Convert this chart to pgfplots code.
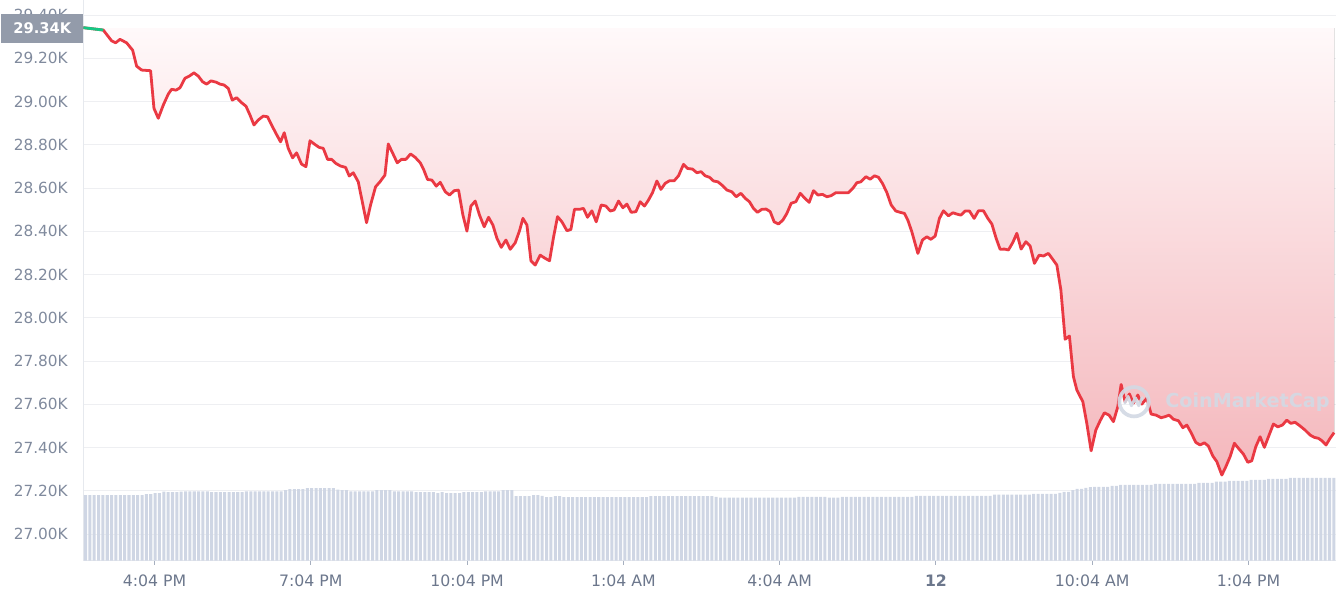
\documentclass[border=0pt]{standalone}
\usepackage{fontspec}
\setmainfont{DejaVu Sans}
\usepackage{pgfplots}
\pgfplotsset{compat=1.18}
\usepackage{pgfplotstable}
\usepgfplotslibrary{fillbetween}

\definecolor{linec}{HTML}{EA3943}
\definecolor{greenc}{HTML}{16C784}
\definecolor{barc}{HTML}{CFD6E4}
\definecolor{gridc}{HTML}{58667E}
\definecolor{axisc}{HTML}{E6E9EE}
\definecolor{tickc}{HTML}{A6AFBF}
\definecolor{ylab}{HTML}{808A9D}
\definecolor{xlab}{HTML}{6C778C}
\definecolor{boxc}{HTML}{939BAA}
\definecolor{dotc}{HTML}{A0A7B4}
\definecolor{filltop}{HTML}{FFF9FA}
\definecolor{fillc}{HTML}{F4B7BC}
\definecolor{wmc}{HTML}{D3D9E4}

% price, hours after 4:04 PM -> thousand USD
\pgfplotstableread{
h p
-1.368 29.342
-0.985 29.331
-0.825 29.281
-0.749 29.272
-0.664 29.288
-0.537 29.272
-0.422 29.238
-0.345 29.164
-0.250 29.146
-0.077 29.143
-0.012 28.969
0.071 28.923
0.167 28.984
0.263 29.035
0.326 29.057
0.411 29.053
0.488 29.064
0.583 29.108
0.666 29.118
0.756 29.133
0.839 29.118
0.921 29.092
0.998 29.081
1.083 29.096
1.179 29.090
1.255 29.081
1.332 29.077
1.415 29.061
1.491 29.007
1.574 29.018
1.670 28.995
1.754 28.979
1.831 28.938
1.908 28.892
1.990 28.915
2.086 28.933
2.169 28.930
2.246 28.892
2.330 28.853
2.418 28.814
2.489 28.856
2.566 28.784
2.649 28.740
2.726 28.763
2.821 28.711
2.906 28.699
2.983 28.819
3.065 28.804
3.161 28.788
3.238 28.784
3.321 28.733
3.397 28.733
3.482 28.714
3.570 28.702
3.666 28.696
3.737 28.656
3.814 28.671
3.910 28.629
3.987 28.537
4.069 28.440
4.146 28.522
4.242 28.606
4.326 28.629
4.422 28.660
4.486 28.804
4.568 28.763
4.658 28.717
4.741 28.733
4.825 28.733
4.914 28.758
5.004 28.742
5.100 28.717
5.163 28.687
5.240 28.640
5.324 28.637
5.407 28.609
5.484 28.627
5.580 28.583
5.662 28.568
5.752 28.588
5.835 28.591
5.919 28.475
5.996 28.401
6.073 28.517
6.155 28.540
6.238 28.475
6.328 28.421
6.411 28.465
6.495 28.429
6.572 28.368
6.655 28.326
6.745 28.360
6.827 28.317
6.923 28.347
7.006 28.403
7.071 28.460
7.148 28.429
7.225 28.264
7.307 28.244
7.403 28.290
7.499 28.275
7.582 28.264
7.658 28.372
7.735 28.468
7.820 28.444
7.916 28.403
7.992 28.409
8.061 28.502
8.157 28.502
8.234 28.506
8.311 28.465
8.395 28.495
8.478 28.444
8.574 28.522
8.664 28.517
8.747 28.494
8.823 28.499
8.906 28.540
8.990 28.509
9.067 28.526
9.150 28.488
9.240 28.491
9.323 28.537
9.405 28.517
9.482 28.545
9.559 28.579
9.643 28.633
9.720 28.594
9.802 28.622
9.885 28.634
9.975 28.634
10.058 28.657
10.154 28.710
10.230 28.691
10.326 28.688
10.411 28.671
10.493 28.676
10.570 28.657
10.653 28.650
10.729 28.633
10.814 28.629
10.891 28.614
10.987 28.591
11.082 28.583
11.165 28.560
11.255 28.576
11.338 28.553
11.420 28.537
11.497 28.506
11.574 28.488
11.658 28.502
11.741 28.503
11.818 28.491
11.894 28.444
11.977 28.434
12.061 28.452
12.138 28.483
12.221 28.530
12.311 28.537
12.394 28.576
12.476 28.555
12.566 28.534
12.649 28.588
12.733 28.568
12.822 28.571
12.906 28.560
12.988 28.565
13.079 28.579
13.161 28.579
13.244 28.579
13.321 28.579
13.405 28.599
13.482 28.625
13.559 28.629
13.655 28.653
13.737 28.641
13.820 28.657
13.896 28.650
13.973 28.622
14.058 28.579
14.140 28.522
14.230 28.494
14.313 28.488
14.395 28.483
14.460 28.452
14.537 28.398
14.653 28.298
14.741 28.360
14.825 28.375
14.902 28.363
14.985 28.378
15.067 28.460
15.144 28.495
15.240 28.472
15.324 28.486
15.401 28.480
15.478 28.475
15.560 28.494
15.643 28.494
15.733 28.460
15.816 28.495
15.912 28.495
15.996 28.460
16.073 28.434
16.155 28.368
16.232 28.317
16.315 28.318
16.392 28.314
16.476 28.349
16.553 28.391
16.635 28.318
16.726 28.352
16.808 28.332
16.891 28.252
16.981 28.290
17.063 28.286
17.159 28.298
17.244 28.270
17.321 28.244
17.398 28.129
17.480 27.901
17.562 27.916
17.639 27.728
17.705 27.666
17.820 27.612
17.896 27.512
17.979 27.385
18.069 27.481
18.152 27.524
18.234 27.561
18.324 27.550
18.407 27.520
18.491 27.589
18.555 27.692
18.631 27.612
18.714 27.648
18.791 27.605
18.875 27.643
18.952 27.601
19.048 27.628
19.131 27.555
19.226 27.550
19.322 27.538
19.399 27.543
19.476 27.550
19.559 27.531
19.655 27.524
19.739 27.492
19.816 27.504
19.898 27.469
19.988 27.424
20.071 27.412
20.154 27.422
20.230 27.407
20.315 27.361
20.392 27.335
20.488 27.273
20.564 27.311
20.647 27.358
20.729 27.420
20.806 27.397
20.902 27.370
20.987 27.332
21.063 27.339
21.140 27.404
21.223 27.450
21.305 27.401
21.396 27.458
21.478 27.509
21.562 27.496
21.651 27.504
21.735 27.527
21.812 27.512
21.894 27.517
21.990 27.500
22.086 27.481
22.182 27.458
22.265 27.447
22.342 27.443
22.407 27.432
22.489 27.412
22.566 27.443
22.643 27.469
}\price

% volume bars, one per 5 minutes, drawn on the price scale
\pgfplotstableread[row sep=\\]{
v\\
27.180\\27.180\\27.180\\27.180\\27.180\\27.180\\27.180\\27.180\\27.180\\27.180\\27.180\\27.180\\27.180\\27.180\\
27.185\\27.185\\
27.189\\27.189\\
27.196\\
27.194\\27.194\\27.194\\
27.196\\
27.198\\27.198\\27.198\\27.198\\27.198\\27.198\\
27.194\\27.194\\27.194\\27.194\\27.194\\27.194\\27.194\\27.194\\
27.198\\27.198\\27.198\\27.198\\27.198\\27.198\\27.198\\27.198\\27.198\\
27.203\\
27.208\\27.208\\27.208\\27.208\\
27.212\\27.212\\27.212\\27.212\\27.212\\27.212\\27.212\\
27.206\\
27.203\\27.203\\
27.198\\27.198\\27.198\\27.198\\27.198\\27.198\\
27.203\\27.203\\27.203\\27.203\\
27.198\\27.198\\27.198\\27.198\\27.198\\
27.194\\27.194\\27.194\\27.194\\27.194\\
27.189\\
27.194\\
27.189\\27.189\\27.189\\27.189\\
27.194\\27.194\\27.194\\27.194\\27.194\\
27.198\\27.198\\27.198\\27.198\\
27.203\\27.203\\27.203\\
27.175\\27.175\\27.175\\27.175\\
27.180\\27.180\\
27.177\\
27.171\\27.171\\
27.175\\27.175\\
27.171\\27.171\\27.171\\27.171\\27.171\\27.171\\27.171\\27.171\\27.171\\27.171\\
27.171\\27.171\\27.171\\27.171\\27.171\\27.171\\27.171\\27.171\\27.171\\27.171\\
27.175\\27.175\\27.175\\27.175\\27.175\\27.175\\27.175\\27.175\\27.175\\27.175\\27.175\\27.175\\27.175\\27.175\\27.175\\
27.172\\
27.168\\27.168\\27.168\\27.168\\27.168\\27.168\\27.168\\27.168\\27.168\\
27.168\\27.168\\27.168\\27.168\\27.168\\27.168\\27.168\\27.168\\27.168\\
27.172\\27.172\\27.172\\27.172\\27.172\\27.172\\27.172\\
27.168\\27.168\\27.168\\
27.172\\27.172\\27.172\\27.172\\27.172\\27.172\\27.172\\27.172\\27.172\\
27.172\\27.172\\27.172\\27.172\\27.172\\27.172\\27.172\\27.172\\
27.177\\27.177\\27.177\\27.177\\27.177\\27.177\\27.177\\27.177\\27.177\\
27.177\\27.177\\27.177\\27.177\\27.177\\27.177\\27.177\\27.177\\27.177\\
27.182\\27.182\\27.182\\27.182\\27.182\\27.182\\27.182\\27.182\\27.182\\
27.186\\27.186\\27.186\\27.186\\27.186\\27.186\\
27.191\\
27.195\\27.195\\
27.203\\
27.209\\27.209\\
27.214\\
27.217\\
27.218\\27.218\\27.218\\27.218\\
27.223\\27.223\\
27.228\\27.228\\27.228\\27.228\\27.228\\27.228\\27.228\\27.228\\
27.232\\27.232\\27.232\\27.232\\27.232\\27.232\\27.232\\27.232\\27.232\\27.232\\
27.237\\27.237\\27.237\\27.237\\
27.242\\27.242\\27.242\\
27.246\\27.246\\27.246\\27.246\\27.246\\
27.251\\27.251\\27.251\\27.251\\
27.255\\27.255\\27.255\\27.255\\27.255\\
27.260\\27.260\\27.260\\27.260\\27.260\\27.260\\27.260\\27.260\\27.260\\27.260\\27.260\\
}\bars

\begin{document}
\begin{tikzpicture}
\begin{axis}[
    name=ax,
    set layers,
    scale only axis,
    width=939.5pt, height=420.5pt,
    xmin=-1.368, xmax=22.68,
    ymin=26.877, ymax=29.470,
    axis x line*=bottom, axis y line*=left,
    axis line style={draw=axisc, line width=0.75pt},
    tick align=inside,
    major tick length=3pt,
    xtick={0,3,6,9,12,15,18,21},
    xticklabels={4:04 PM,7:04 PM,10:04 PM,1:04 AM,4:04 AM,\textbf{12},10:04 AM,1:04 PM},
    ytick={27.0,27.2,27.4,27.6,27.8,28.0,28.2,28.4,28.6,28.8,29.0,29.2,29.4},
    yticklabels={27.00K,27.20K,27.40K,27.60K,27.80K,28.00K,28.20K,28.40K,28.60K,28.80K,29.00K,29.20K,29.40K},
    ymajorgrids=true,
    major grid style={draw=gridc, draw opacity=0.1, line width=0.75pt},
    ytick style={draw=none},
    xtick style={draw=tickc, line width=0.75pt, yshift=-3pt},
    yticklabel style={font=\fontsize{11.5}{13}\selectfont, text=ylab, inner xsep=11.5pt},
    xticklabel style={font=\fontsize{11.8}{13}\selectfont, text=xlab, yshift=-7.3pt},
    extra y ticks={29.34},
    extra y tick labels={29.34K},
    extra y tick style={
        ymajorgrids=true,
        major grid style={draw=dotc, draw opacity=1, dash pattern=on 0.9pt off 4.1pt, line width=0.9pt},
        yticklabel style={fill=boxc, text=white, font=\bfseries\fontsize{11}{13}\selectfont,
            inner sep=0pt, minimum width=61.2pt, minimum height=21.75pt},
    },
]
% area between price and the opening level, under the grid
\addplot[draw=none, name path=price] table[x=h, y=p] {\price};
\addplot[draw=none, name path=base] coordinates {(-1.368,29.34) (22.643,29.34)};
\addplot[draw=none, top color=filltop, bottom color=fillc, on layer=axis background]
    fill between[of=price and base];

% volume
\addplot[ybar, bar shift=0pt, bar width=0.058, fill=barc, draw=none]
    table[x expr=-1.368+(\coordindex+0.5)*0.0835, y=v] {\bars};

% price line
\addplot[linec, line width=2.1pt, line join=round] table[x=h, y=p] {\price};
\addplot[greenc, line width=2.1pt, restrict expr to domain={\coordindex}{0:1}]
    table[x=h, y=p] {\price};

% watermark, drawn over the line
\node[text=wmc, text opacity=0.92, font=\bfseries\fontsize{14.4}{16}\selectfont] (wm)
    at (axis cs:20.98,27.612) {CoinMarketCap};
\node[draw=wmc, draw opacity=0.92, line width=2.8pt, circle, minimum size=22pt, inner sep=0pt, anchor=east]
    (logo) at ([xshift=-7.5pt]wm.west) {};
\draw[wmc, opacity=0.92, line width=2.2pt, line join=round, line cap=round]
    ([shift={(-7pt,-1pt)}]logo.center) -- ([shift={(-4.5pt,4pt)}]logo.center)
    -- ([shift={(-2pt,-3pt)}]logo.center) -- ([shift={(1pt,3pt)}]logo.center)
    -- ([shift={(3.5pt,-3pt)}]logo.center) -- ([shift={(6pt,3pt)}]logo.center);
\end{axis}
\pgfresetboundingbox
\path[use as bounding box] ([shift={(-62.5pt,-29.5pt)}]ax.south west)
    rectangle ([shift={(1.5pt,0pt)}]ax.north east);
\end{tikzpicture}
\end{document}
